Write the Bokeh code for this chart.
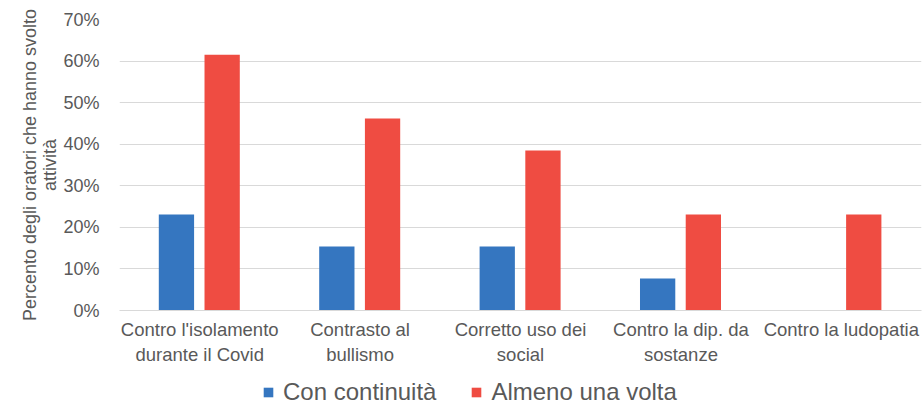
from bokeh.plotting import figure
from bokeh.layouts import column
from bokeh.models import (ColumnDataSource, FactorRange, Range1d, FixedTicker, Legend,
                          LegendItem, NumeralTickFormatter)
from bokeh.transform import dodge
from bokeh.embed import file_html
from bokeh.resources import INLINE

# Activities carried out by the oratories
categories = [
    "Contro l'isolamento\ndurante il Covid",
    "Contrasto al\nbullismo",
    "Corretto uso dei\nsocial",
    "Contro la dip. da\nsostanze",
    "Contro la ludopatia",
]
con_continuita = [0.231, 0.154, 0.154, 0.077, 0.0]
almeno_una_volta = [0.615, 0.462, 0.385, 0.231, 0.231]
series_names = ["Con continuità", "Almeno una volta"]
y_ticks = [0, 0.1, 0.2, 0.3, 0.4, 0.5, 0.6, 0.7]

BLUE = "#3576c0"
RED = "#ef4c42"
TEXT = "#595959"
GRID = "#d9d9d9"
FONT = "Liberation Sans"

source = ColumnDataSource(dict(cat=categories, cc=con_continuita, av=almeno_una_volta))

p = figure(
    width=922, height=367,
    x_range=FactorRange(*categories, range_padding=0),
    y_range=Range1d(0, 0.7),
    output_backend="svg", toolbar_location=None,
    min_border_left=119, min_border_right=1, min_border_top=19, min_border_bottom=40,
)
p.outline_line_color = None

p.vbar(x=dodge("cat", -0.145, range=p.x_range), top="cc", width=0.22,
       source=source, color=BLUE, line_color=None)
p.vbar(x=dodge("cat", 0.14, range=p.x_range), top="av", width=0.22,
       source=source, color=RED, line_color=None)

# y axis
p.yaxis.ticker = FixedTicker(ticks=y_ticks)
p.yaxis.formatter = NumeralTickFormatter(format="0%")
p.yaxis.axis_line_color = None
p.yaxis.major_tick_line_color = None
p.yaxis.minor_tick_line_color = None
p.yaxis.major_label_text_font = FONT
p.yaxis.major_label_text_font_size = "18px"
p.yaxis.major_label_text_color = TEXT
p.yaxis.major_label_standoff = 14
p.yaxis.axis_label = "Percento degli oratori che hanno svolto\nattività"
p.yaxis.axis_label_text_font = FONT
p.yaxis.axis_label_text_font_style = "normal"
p.yaxis.axis_label_text_font_size = "18px"
p.yaxis.axis_label_text_color = TEXT
p.yaxis.axis_label_text_line_height = 1.0
p.yaxis.axis_label_standoff = 0

# x axis
p.xaxis.axis_line_color = GRID
p.xaxis.major_tick_line_color = None
p.xaxis.minor_tick_line_color = None
p.xaxis.major_label_text_font = FONT
p.xaxis.major_label_text_font_size = "18.5px"
p.xaxis.major_label_text_color = TEXT
p.xaxis.major_label_standoff = 2

p.xgrid.grid_line_color = None
p.ygrid.grid_line_color = GRID
p.ygrid.grid_line_width = 1

# legend strip under the chart; its bars fall outside the visible range
leg = figure(width=922, height=39, output_backend="svg", toolbar_location=None,
             min_border=0, x_range=FactorRange(*categories), y_range=Range1d(5, 6))
leg.axis.visible = False
leg.grid.visible = False
leg.outline_line_color = None
lr1 = leg.vbar(x="cat", top="cc", width=0.1, source=source, color=BLUE, line_color=None)
lr2 = leg.vbar(x="cat", top="av", width=0.1, source=source, color=RED, line_color=None)

legend = Legend(
    items=[LegendItem(label=series_names[0], renderers=[lr1]),
           LegendItem(label=series_names[1], renderers=[lr2])],
    orientation="horizontal", location=(143, 0),
    label_text_font=FONT, label_text_font_size="24px", label_text_color=TEXT,
    glyph_width=12, glyph_height=12, spacing=34, label_standoff=9,
    border_line_color=None, background_fill_alpha=0, padding=0, margin=0,
)
leg.add_layout(legend)

layout = column(p, leg, spacing=0)
open("out.html", "w").write(file_html(layout, INLINE))
